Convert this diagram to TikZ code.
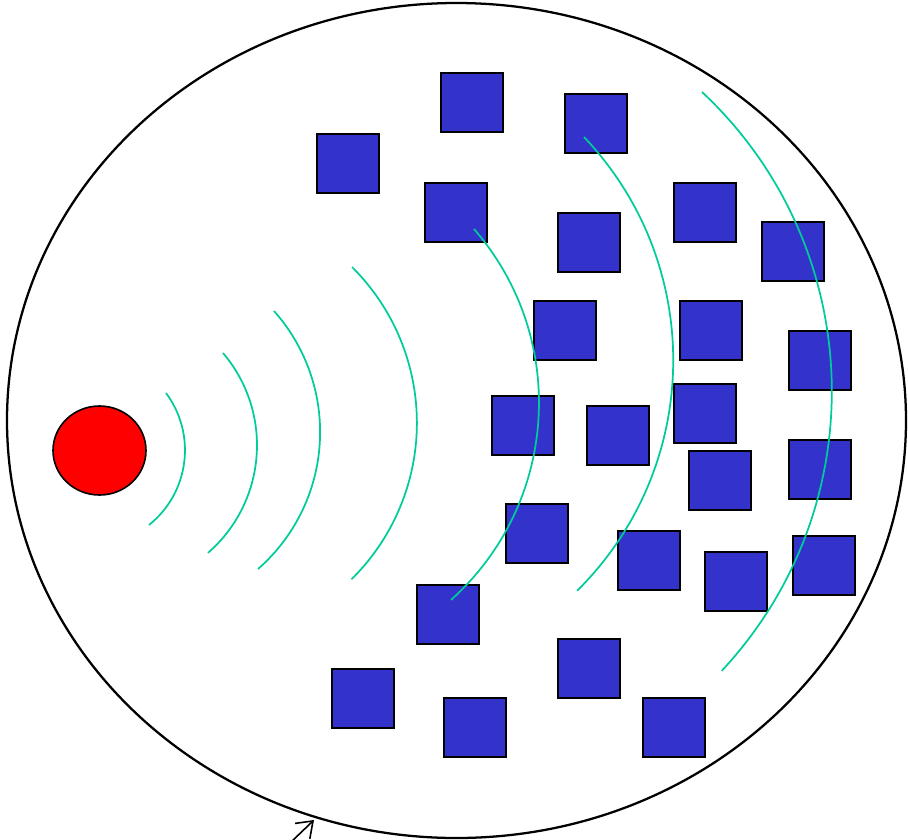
\documentclass[tikz,border=0pt]{standalone}
\usepackage{tikz}
\usetikzlibrary{shapes.geometric,arrows.meta}
\definecolor{scatblue}{HTML}{3333CC}
\definecolor{wavegreen}{HTML}{00CC99}

\begin{document}
\begin{tikzpicture}[x=0.75pt, y=-0.75pt,
        scat/.style={draw=black, line width=1.2pt, fill=scatblue, inner sep=0pt, minimum width=46.5pt, minimum height=44.25pt},
        wave/.style={wavegreen, line width=1.3pt},
        src/.style={ellipse, draw=black, line width=1.2pt, fill=red, inner sep=0pt, minimum width=69.75pt, minimum height=66.75pt}]
        \useasboundingbox (0,0) rectangle (908,840);
        % boundary
        \draw[black, line width=1.7pt] (456.5,420.5) ellipse [x radius=449.5, y radius=417.5];
        % scatterers
        \node[scat] (scat1) at (348,163.5) {};   \node[scat] (scat2) at (472,102.5) {};
        \node[scat] (scat3) at (596,123.5) {};   \node[scat] (scat4) at (456,212.5) {};
        \node[scat] (scat5) at (589,242.5) {};   \node[scat] (scat6) at (705,212.5) {};
        \node[scat] (scat7) at (793,251.5) {};   \node[scat] (scat8) at (565,330.5) {};
        \node[scat] (scat9) at (711,330.5) {};   \node[scat] (scat10) at (820,360.5) {};
        \node[scat] (scat11) at (523,425.5) {};  \node[scat] (scat12) at (618,435.5) {};
        \node[scat] (scat13) at (705,413.5) {};  \node[scat] (scat14) at (720,480.5) {};
        \node[scat] (scat15) at (820,469.5) {};  \node[scat] (scat16) at (537,533.5) {};
        \node[scat] (scat17) at (649,560.5) {};  \node[scat] (scat18) at (736,581.5) {};
        \node[scat] (scat19) at (824,565.5) {};  \node[scat] (scat20) at (448,614.5) {};
        \node[scat] (scat21) at (589,668.5) {};  \node[scat] (scat22) at (363,698.5) {};
        \node[scat] (scat23) at (475,727.5) {};  \node[scat] (scat24) at (674,727.5) {};
        % source
        \node[src] (source) at (99.5,450.5) {};
        % wave fronts
        \draw[wave] (166,393) arc[start angle=-36.7, end angle=51.4, radius=95.7];
        \draw[wave] (223,353) arc[start angle=-40.4, end angle=49.0, radius=142.5];
        \draw[wave] (274,311) arc[start angle=-41.7, end angle=48.8, radius=182.0];
        \draw[wave] (352,267) arc[start angle=-45.2, end angle=45.4, radius=219.7];
        \draw[wave] (474,229) arc[start angle=-41.0, end angle=48.1, radius=264.9];
        \draw[wave] (584,137) arc[start angle=-43.55, end angle=45.3, radius=324.2];
        \draw[wave] (702,92) arc[start angle=-46.9, end angle=43.0, radius=409.9];
        % pointer
        \coordinate (tail) at (290,843);
        \coordinate (tip) at (314,820);
        \draw[black, line width=1.2pt, -{Straight Barb[length=11pt, width=16pt]}] (tail) -- (tip);
    \end{tikzpicture}
\end{document}
